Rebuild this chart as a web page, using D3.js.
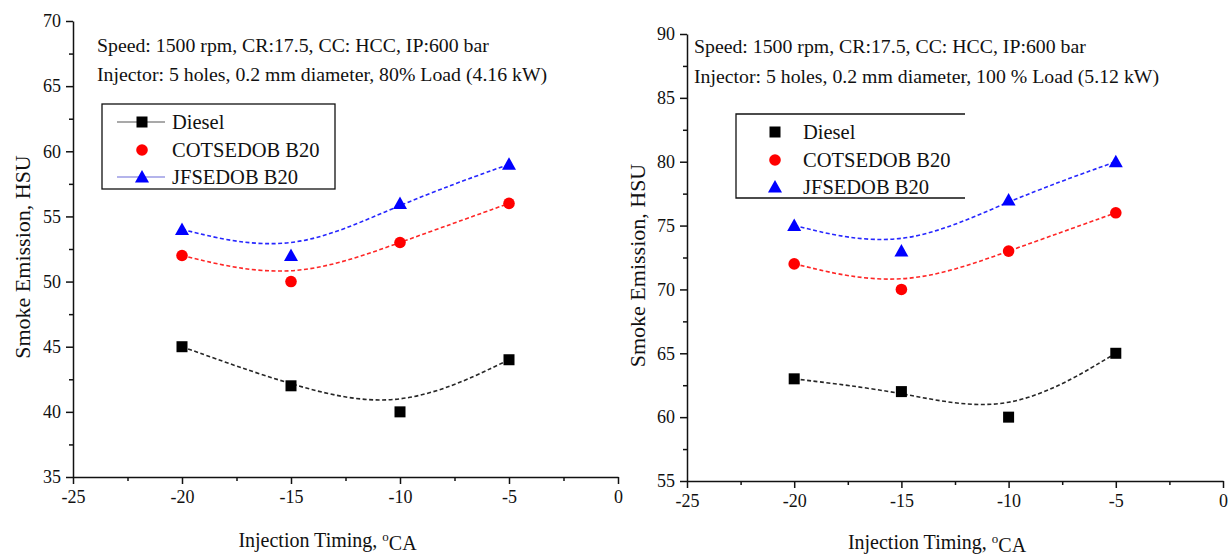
<!DOCTYPE html>
<html>
<head>
<meta charset="utf-8">
<script src="https://cdn.jsdelivr.net/npm/d3@7"></script>
<style>
  html, body { margin: 0; padding: 0; background: #fff; }
  svg text { font-family: "Liberation Serif", "Times New Roman", serif; fill: #111; }
</style>
</head>
<body>
<svg id="chart" width="1231" height="555"></svg>
<script>
// Injection timing (°CA) shared by both panels
const timing = [-20, -15, -10, -5];
const seriesNames = ["Diesel", "COTSEDOB B20", "JFSEDOB B20"];
const seriesColors = ["#000000", "#ff0000", "#0000ff"];
const seriesShapes = ["square", "circle", "triangle"];

// 80% load (4.16 kW)
const load80Diesel = [45, 42, 40, 44];
const load80Cotsedob = [52, 50, 53, 56];
const load80Jfsedob = [54, 52, 56, 59];

// 100% load (5.12 kW)
const load100Diesel = [63, 62, 60, 65];
const load100Cotsedob = [72, 70, 73, 76];
const load100Jfsedob = [75, 73, 77, 80];

const xTicks = [-25, -20, -15, -10, -5, 0];
const yTicks80 = [35, 40, 45, 50, 55, 60, 65, 70];
const yTicks100 = [55, 60, 65, 70, 75, 80, 85, 90];

const noteLine1 = "Speed: 1500 rpm, CR:17.5, CC: HCC, IP:600 bar";
const noteLine2a = "Injector: 5 holes, 0.2 mm diameter, 80% Load (4.16 kW)";
const noteLine2b = "Injector: 5 holes, 0.2 mm diameter, 100 % Load (5.12 kW)";

const svg = d3.select("#chart");
const serif = "'Liberation Serif', 'Times New Roman', serif";

const panels = [
  {
    series: [load80Diesel, load80Cotsedob, load80Jfsedob],
    yDomain: [35, 70], yTicks: yTicks80,
    xRange: [73, 618], yRange: [477, 21],
    note: [noteLine1, noteLine2a], noteX: 97, noteY: [52, 81],
    legend: { x0: 102, y0: 104, x1: 335, y1: 189, rows: [122, 150, 177], mx: 142, tx: 172, lines: [true, false, true], sides: 4 },
    yTitleX: 30, xTitleY: 547
  },
  {
    series: [load100Diesel, load100Cotsedob, load100Jfsedob],
    yDomain: [55, 90], yTicks: yTicks100,
    xRange: [687, 1223], yRange: [481, 34],
    note: [noteLine1, noteLine2b], noteX: 694, noteY: [53, 83],
    legend: { x0: 736, y0: 114, x1: 965, y1: 198, rows: [132, 160, 187], mx: 775, tx: 803, lines: [false, false, false], sides: 3 },
    yTitleX: 645, xTitleY: 549
  }
];

function drawMarker(g, shape, color, cx, cy) {
  if (shape === "square") {
    g.append("rect").attr("x", cx - 5.5).attr("y", cy - 5.5).attr("width", 11).attr("height", 11).attr("fill", color);
  } else if (shape === "circle") {
    g.append("circle").attr("cx", cx).attr("cy", cy).attr("r", 5.8).attr("fill", color);
  } else {
    g.append("path")
      .attr("d", `M${cx},${cy - 7}L${cx + 7},${cy + 5.5}L${cx - 7},${cy + 5.5}Z`)
      .attr("fill", color);
  }
}

// plain hyphen for negative tick values
const tickFmt = d => String(d);

panels.forEach(p => {
  const x = d3.scaleLinear().domain([-25, 0]).range(p.xRange);
  const y = d3.scaleLinear().domain(p.yDomain).range(p.yRange);
  const g = svg.append("g");

  // minor ticks halfway between labelled ticks
  const xMinor = d3.range(-22.5, 0, 5);
  const yMinor = d3.range(p.yDomain[0] + 2.5, p.yDomain[1], 5);

  const xAxis = d3.axisBottom(x).tickValues(xTicks).tickFormat(tickFmt).tickSize(7).tickSizeOuter(0).tickPadding(6);
  const yAxis = d3.axisLeft(y).tickValues(p.yTicks).tickFormat(tickFmt).tickSize(7).tickSizeOuter(0).tickPadding(5);

  const gx = g.append("g").attr("transform", `translate(0,${p.yRange[0]})`).call(xAxis);
  const gy = g.append("g").attr("transform", `translate(${p.xRange[0]},0)`).call(yAxis);
  g.append("g").attr("transform", `translate(0,${p.yRange[0]})`)
    .call(d3.axisBottom(x).tickValues(xMinor).tickFormat("").tickSize(4).tickSizeOuter(0))
    .select(".domain").remove();
  g.append("g").attr("transform", `translate(${p.xRange[0]},0)`)
    .call(d3.axisLeft(y).tickValues(yMinor).tickFormat("").tickSize(4).tickSizeOuter(0))
    .select(".domain").remove();

  g.selectAll(".domain, .tick line").attr("stroke", "#111").attr("stroke-width", 1.5);
  [gx, gy].forEach(a => {
    a.attr("font-family", serif).attr("font-size", 18);
    a.selectAll(".tick text").attr("font-family", serif).attr("font-size", 18).attr("fill", "#222");
  });

  // fitted B-spline curves and data markers
  const line = d3.line().x(d => x(d[0])).y(d => y(d[1])).curve(d3.curveBasis);
  p.series.forEach((vals, i) => {
    const pts = timing.map((t, k) => [t, vals[k]]);
    g.append("path").attr("d", line(pts)).attr("fill", "none")
      .attr("stroke", seriesColors[i]).attr("stroke-width", 1.6)
      .attr("stroke-dasharray", "4,2.5").attr("opacity", 0.85);
  });
  p.series.forEach((vals, i) => {
    timing.forEach((t, k) => drawMarker(g, seriesShapes[i], seriesColors[i], x(t), y(vals[k])));
  });

  // operating conditions note
  p.note.forEach((s, i) => {
    g.append("text").attr("x", p.noteX).attr("y", p.noteY[i])
      .style("font-size", "19.8px").text(s);
  });

  // legend
  const L = p.legend;
  const lg = g.append("g");
  if (L.sides === 4) {
    lg.append("rect").attr("x", L.x0).attr("y", L.y0).attr("width", L.x1 - L.x0).attr("height", L.y1 - L.y0)
      .attr("fill", "none").attr("stroke", "#111").attr("stroke-width", 1.3);
  } else {
    lg.append("path").attr("d", `M${L.x1},${L.y0}H${L.x0}V${L.y1}H${L.x1}`)
      .attr("fill", "none").attr("stroke", "#111").attr("stroke-width", 1.3);
  }
  seriesNames.forEach((name, i) => {
    if (L.lines[i]) {
      lg.append("line").attr("x1", L.mx - 25).attr("x2", L.mx + 23).attr("y1", L.rows[i]).attr("y2", L.rows[i])
        .attr("stroke", i === 0 ? "#555" : "#6a6ad8").attr("stroke-width", 1.2);
    }
    drawMarker(lg, seriesShapes[i], seriesColors[i], L.mx, L.rows[i]);
    lg.append("text").attr("x", L.tx).attr("y", L.rows[i]).attr("dy", "0.35em")
      .style("font-size", "20.5px").text(name);
  });

  // axis titles
  const xt = g.append("text").attr("x", (p.xRange[0] + p.xRange[1]) / 2 - 18).attr("y", p.xTitleY)
    .attr("text-anchor", "middle").style("font-size", "20px");
  xt.append("tspan").text("Injection Timing, ");
  xt.append("tspan").attr("dy", "-0.45em").style("font-size", "13px").text("o");
  xt.append("tspan").attr("dy", "0.45em").text("CA");

  g.append("text")
    .attr("transform", `translate(${p.yTitleX},${(p.yRange[0] + p.yRange[1]) / 2 + 8}) rotate(-90)`)
    .attr("text-anchor", "middle").style("font-size", "22px")
    .text("Smoke Emission, HSU");
});
</script>
</body>
</html>
